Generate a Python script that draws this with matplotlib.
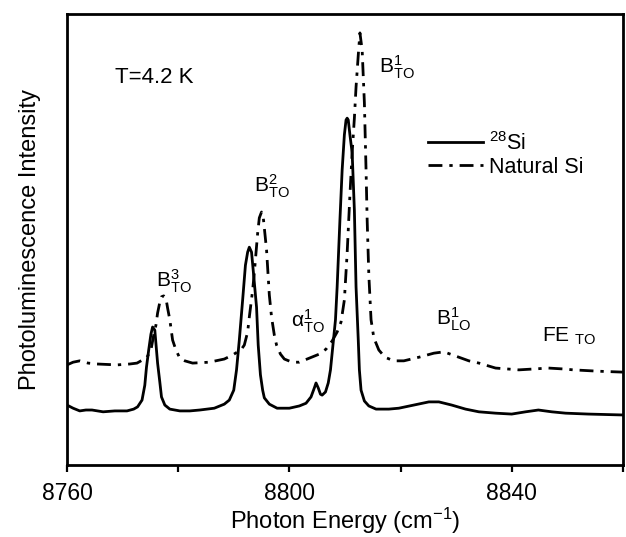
import matplotlib
matplotlib.use("Agg")
import matplotlib.pyplot as plt

plt.rcParams.update({
    "font.family": "Liberation Sans",
    "mathtext.fontset": "custom",
    "mathtext.rm": "Liberation Sans",
    "mathtext.it": "Liberation Sans:italic",
    "mathtext.bf": "Liberation Sans:bold",
    "axes.linewidth": 2.0,
})

# 28Si (solid) spectrum, photon energy in cm^-1 and intensity in arb. units
si28_energy = [
    8760.0, 8761.1, 8762.3, 8763.4, 8764.5, 8766.5, 8768.6, 8770.8, 8772.0, 8772.7,
    8773.5, 8774.0, 8774.3, 8774.7, 8775.1, 8775.4, 8775.8, 8776.1, 8776.3, 8776.7,
    8777.0, 8777.6, 8778.5, 8780.3, 8782.1, 8783.9, 8786.5, 8788.3, 8789.2, 8790.0,
    8790.5, 8791.0, 8791.6, 8792.1, 8792.5, 8792.8, 8793.2, 8793.5, 8794.1, 8794.4,
    8794.8, 8795.2, 8795.5, 8796.4, 8797.8, 8800.0, 8801.8, 8803.0, 8803.9, 8804.5,
    8804.8, 8805.2, 8805.6, 8805.9, 8806.5, 8807.0, 8807.4, 8807.7, 8808.3, 8808.6,
    8809.1, 8809.5, 8809.9, 8810.2, 8810.4, 8810.6, 8810.9, 8811.3, 8811.7, 8812.0,
    8812.4, 8812.6, 8812.9, 8813.5, 8814.3, 8815.6, 8817.9, 8819.7, 8822.4, 8825.1,
    8826.9, 8829.2, 8831.7, 8834.1, 8837.1, 8840.0, 8842.5, 8844.8, 8847.2, 8849.7,
    8853.8, 8860.0,
]
si28_intensity = [
    13.3, 12.6, 12.0, 12.2, 12.2, 11.8, 12.0, 12.0, 12.4, 12.9,
    14.4, 17.7, 21.7, 25.5, 29.0, 30.6, 29.9, 25.5, 22.6, 18.4,
    15.1, 13.3, 12.4, 12.0, 12.0, 12.2, 12.6, 13.5, 14.4, 16.6,
    21.1, 27.7, 36.6, 44.3, 47.2, 48.3, 47.2, 43.2, 35.0, 26.6,
    20.0, 16.6, 14.9, 13.5, 12.6, 12.6, 13.1, 13.7, 15.1, 17.1,
    18.2, 17.1, 15.7, 15.5, 16.2, 18.2, 21.1, 24.8, 32.2, 39.5,
    54.3, 65.4, 73.2, 76.5, 76.9, 76.5, 73.2, 69.2, 56.5, 39.5,
    27.7, 21.1, 16.6, 14.2, 13.1, 12.4, 12.4, 12.6, 13.3, 14.0,
    14.0, 13.3, 12.4, 11.8, 11.5, 11.3, 11.8, 12.2, 11.8, 11.5,
    11.3, 11.1,
]

# natural Si (dash-dot) spectrum
nat_energy = [
    8760.0, 8761.1, 8762.3, 8763.8, 8765.4, 8769.0, 8771.3, 8772.6, 8773.6, 8774.3,
    8775.1, 8775.6, 8776.0, 8776.3, 8776.7, 8777.0, 8777.4, 8777.8, 8778.1, 8778.5,
    8779.0, 8779.6, 8780.3, 8781.2, 8782.6, 8785.6, 8788.3, 8789.8, 8790.7, 8791.4,
    8791.9, 8792.5, 8792.8, 8793.4, 8793.7, 8794.3, 8794.6, 8795.0, 8795.3, 8795.9,
    8796.4, 8796.8, 8797.3, 8797.7, 8798.4, 8799.1, 8800.5, 8801.8, 8803.6, 8805.4,
    8806.6, 8807.7, 8808.6, 8809.3, 8809.9, 8810.4, 8810.9, 8811.3, 8811.7, 8812.0,
    8812.4, 8812.7, 8813.1, 8813.5, 8813.8, 8814.0, 8814.3, 8814.7, 8815.2, 8816.1,
    8817.2, 8818.8, 8820.6, 8823.3, 8826.0, 8827.8, 8830.5, 8832.3, 8834.1, 8837.1,
    8841.3, 8844.0, 8846.6, 8849.3, 8851.1, 8855.6, 8860.0,
]
nat_intensity = [
    22.2, 22.8, 23.1, 22.6, 22.4, 22.2, 22.4, 22.6, 23.3, 23.7,
    25.5, 28.8, 31.0, 33.7, 36.1, 37.3, 37.5, 37.0, 34.8, 32.2,
    27.7, 25.5, 23.7, 23.1, 22.6, 22.8, 23.5, 24.4, 25.1, 25.7,
    26.6, 29.5, 32.8, 38.8, 42.6, 51.4, 54.8, 56.1, 55.0, 47.7,
    37.7, 32.8, 28.8, 26.6, 24.6, 23.5, 22.8, 22.8, 23.7, 24.6,
    25.7, 27.5, 29.5, 31.7, 36.6, 47.0, 59.9, 69.2, 76.9, 83.8,
    90.9, 95.8, 92.0, 80.3, 65.4, 54.3, 42.1, 32.2, 28.2, 25.5,
    23.9, 23.1, 23.1, 23.9, 24.8, 25.1, 23.9, 23.1, 22.6, 21.5,
    21.1, 21.3, 21.5, 21.3, 21.1, 20.8, 20.6,
]

# peak labels: (text, energy, intensity) at the left/baseline of the label
peak_labels = [
    ("B$^{3}_{\\rm TO}$", 8776.1, 39.5),
    ("B$^{2}_{\\rm TO}$", 8793.7, 60.5),
    ("\u03b1$^{1}_{\\rm TO}$", 8800.3, 30.6),
    ("B$^{1}_{\\rm TO}$", 8816.1, 86.9),
    ("B$^{1}_{\\rm LO}$", 8826.3, 31.0),
    ("FE $_{\\rm TO}$", 8845.4, 27.3),
]

xticks = [8760, 8780, 8800, 8820, 8840, 8860]
xticklabels = ["8760", "", "8800", "", "8840", ""]

fig = plt.figure(figsize=(6.26, 5.37), dpi=100)
ax = fig.add_axes([0.107, 0.134, 0.888, 0.840])

ax.plot(si28_energy, si28_intensity, color="black", lw=2.0, ls="-",
        label="$^{28}$Si")
ax.plot(nat_energy, nat_intensity, color="black", lw=2.0,
        ls=(0, (5, 2.5, 1.2, 2.5)), label="Natural Si")

ax.set_xlim(8760, 8860)
ax.set_ylim(0, 100)
ax.set_xticks(xticks)
ax.set_xticklabels(xticklabels)
ax.set_yticks([])
ax.tick_params(axis="x", direction="out", length=5, width=1.6,
               labelsize=16.5, pad=7)

ax.set_xlabel("Photon Energy (cm$^{-1}$)", fontsize=17, labelpad=1)
ax.set_ylabel("Photoluminescence Intensity", fontsize=17, labelpad=19)

ax.text(8768.6, 84.7, "T=4.2 K", fontsize=16, ha="left", va="baseline")
for label, xv, yv in peak_labels:
    ax.text(xv, yv, label, fontsize=15, ha="left", va="baseline")

ax.legend(loc="upper left", bbox_to_anchor=(0.649, 0.739), frameon=False,
          fontsize=15.5, handlelength=2.55, handletextpad=0.3,
          labelspacing=0.1, borderpad=0, borderaxespad=0)

fig.savefig("out.png", dpi=100)
